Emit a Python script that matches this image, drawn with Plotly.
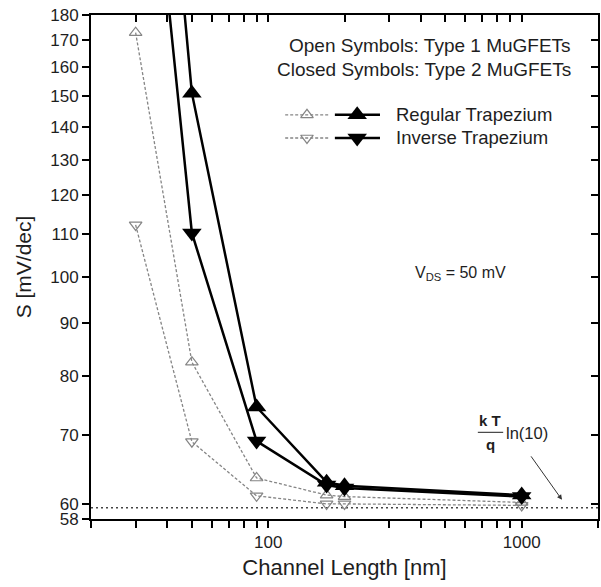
import math
import plotly.graph_objects as go

# ---------------- data ----------------
channel_length = [30, 50, 90, 170, 200, 1000]
type1_regular = [173, 82.5, 63.6, 61.2, 61.0, 60.2]
type1_inverse = [112.3, 69.0, 61.1, 60.0, 60.0, 59.8]
type2_regular = [600, 151, 74.6, 63.0, 62.5, 61.2]
type2_inverse = [380, 110.3, 69.1, 62.6, 62.2, 61.0]
thermal_limit = 59.5
x_limits = [20, 2000]
y_limits = [58, 180]
y_ticks = [58, 60, 70, 80, 90, 100, 110, 120, 130, 140, 150, 160, 170, 180]
x_ticks = [20, 30, 40, 50, 60, 70, 80, 90, 100, 200, 300, 400, 500, 600, 700, 800, 900, 1000, 2000]
x_labels = [str(v) if v in (100, 1000) else "" for v in x_ticks]

FONT = "Liberation Sans, Arial, sans-serif"
GRAY = "#858585"
TXT = "#1e1e1e"

fig = go.Figure()

# reference line kT/q ln(10)
fig.add_trace(go.Scatter(x=x_limits, y=[thermal_limit] * 2, mode="lines",
                         line=dict(color="#444", width=1.5, dash="2px,3px"),
                         showlegend=False, hoverinfo="skip"))

open_line = dict(color=GRAY, width=1.3, dash="3px,2px")
open_marker = lambda s: dict(symbol=s, size=11, color=GRAY, line=dict(width=1.2, color=GRAY))
fig.add_trace(go.Scatter(x=channel_length, y=type1_regular, mode="lines+markers",
                         line=open_line, marker=open_marker("triangle-up-open"), showlegend=False))
fig.add_trace(go.Scatter(x=channel_length, y=type1_inverse, mode="lines+markers",
                         line=open_line, marker=open_marker("triangle-down-open"), showlegend=False))
closed_line = dict(color="black", width=2.5)
fig.add_trace(go.Scatter(x=channel_length, y=type2_regular, mode="lines+markers",
                         line=closed_line, marker=dict(symbol="triangle-up", size=17, color="black"),
                         showlegend=False))
fig.add_trace(go.Scatter(x=channel_length, y=type2_inverse, mode="lines+markers",
                         line=closed_line, marker=dict(symbol="triangle-down", size=17, color="black"),
                         showlegend=False))

# legend samples on a hidden [0,1] overlay axis
leg_rows = [0.802, 0.756]
leg_syms = [("triangle-up-open", "triangle-up"), ("triangle-down-open", "triangle-down")]
for yy, (so, sc) in zip(leg_rows, leg_syms):
    fig.add_trace(go.Scatter(x=[0.383, 0.471], y=[yy, yy], mode="lines", xaxis="x3", yaxis="y3",
                             line=open_line, showlegend=False, hoverinfo="skip"))
    fig.add_trace(go.Scatter(x=[0.426], y=[yy], mode="markers", xaxis="x3", yaxis="y3",
                             marker=open_marker(so), showlegend=False, hoverinfo="skip"))
    fig.add_trace(go.Scatter(x=[0.481, 0.570], y=[yy, yy], mode="lines", xaxis="x3", yaxis="y3",
                             line=closed_line, showlegend=False, hoverinfo="skip"))
    fig.add_trace(go.Scatter(x=[0.525], y=[yy], mode="markers", xaxis="x3", yaxis="y3",
                             marker=dict(symbol=sc, size=17, color="black"),
                             showlegend=False, hoverinfo="skip"))

xr = [math.log10(v) for v in x_limits]
yr = [math.log10(v) for v in y_limits]

axis_common = dict(showgrid=False, zeroline=False, linecolor="black", linewidth=2,
                   tickcolor="black", tickwidth=2, ticklen=7,
                   tickfont=dict(family=FONT, size=17, color=TXT))

fig.update_layout(
    width=601, height=587,
    margin=dict(l=91, r=3, t=15, b=68),
    paper_bgcolor="white", plot_bgcolor="white",
    font=dict(family=FONT, color=TXT),
    xaxis=dict(type="log", range=xr, tickvals=x_ticks, ticktext=x_labels, ticks="outside",
               title=dict(text="Channel Length [nm]", font=dict(family=FONT, size=22, color=TXT),
                          standoff=8),
               **axis_common),
    yaxis=dict(type="log", range=yr, tickvals=y_ticks, ticktext=[str(v) for v in y_ticks],
               ticks="outside",
               title=dict(text="S [mV/dec]", font=dict(family=FONT, size=21, color=TXT), standoff=13),
               **axis_common),
    xaxis2=dict(type="log", range=xr, overlaying="x", side="top", tickvals=x_ticks,
                showticklabels=False, ticks="inside", anchor="y", **axis_common),
    yaxis2=dict(type="log", range=yr, overlaying="y", side="right", tickvals=y_ticks,
                showticklabels=False, ticks="inside", anchor="x", **axis_common),
    xaxis3=dict(range=[0, 1], overlaying="x", visible=False, anchor="y3"),
    yaxis3=dict(range=[0, 1], overlaying="y", visible=False, anchor="x3"),
    showlegend=False,
)
fig.add_trace(go.Scatter(x=[None], y=[None], xaxis="x2", yaxis="y2", showlegend=False))

anns = [
    dict(x=0.951, y=0.940, text="Open Symbols: Type 1 MuGFETs", xanchor="right", size=19),
    dict(x=0.951, y=0.891, text="Closed Symbols: Type 2 MuGFETs", xanchor="right", size=19),
    dict(x=0.598, y=0.802, text="Regular Trapezium", xanchor="left", size=18.5),
    dict(x=0.598, y=0.756, text="Inverse Trapezium", xanchor="left", size=18.5),
    dict(x=0.728, y=0.488, text="V<sub>DS</sub> = 50 mV", xanchor="center", size=16),
    dict(x=0.787, y=0.195, text="<b>k T</b>", xanchor="center", size=15),
    dict(x=0.787, y=0.148, text="<b>q</b>", xanchor="center", size=15),
    dict(x=0.815, y=0.170, text="ln(10)", xanchor="left", size=16.5),
]
for a in anns:
    size = a.pop("size")
    fig.add_annotation(xref="paper", yref="paper", showarrow=False, yanchor="middle",
                       font=dict(family=FONT, size=size, color=TXT), **a)
fig.add_shape(type="line", xref="paper", yref="paper", x0=0.763, x1=0.813, y0=0.172, y1=0.172,
              line=dict(color=TXT, width=1))
fig.add_annotation(xref="paper", yref="paper", x=0.929, y=0.038, ax=-32, ay=-45,
                   showarrow=True, arrowhead=2, arrowsize=1, arrowwidth=1, arrowcolor="#333", text="")

fig.write_html("out.html")
